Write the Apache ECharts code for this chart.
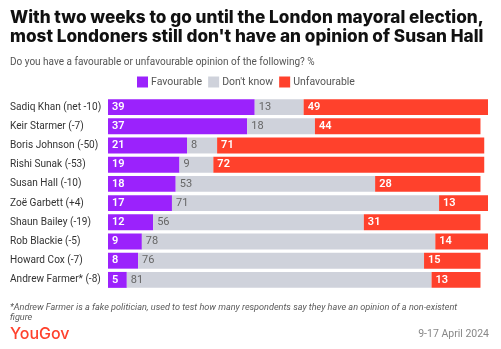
<!DOCTYPE html>
<html>
<head>
<meta charset="utf-8">
<script src="https://cdn.jsdelivr.net/npm/echarts@6/dist/echarts.min.js"></script>
<style>
  html, body { margin: 0; padding: 0; background: #fff; }
  #chart { width: 501px; height: 349px; }
</style>
</head>
<body>
<div id="chart"></div>
<script>
// Politicians, top to bottom, with net favourability in brackets
const people = [
  'Sadiq Khan (net -10)', 'Keir Starmer (-7)', 'Boris Johnson (-50)', 'Rishi Sunak (-53)',
  'Susan Hall (-10)', 'Zoë Garbett (+4)', 'Shaun Bailey (-19)', 'Rob Blackie (-5)',
  'Howard Cox (-7)', 'Andrew Farmer* (-8)'
];
const favourable   = [39, 37, 21, 19, 18, 17, 12, 9, 8, 5];
const dontKnow     = [13, 18, 8, 9, 53, 71, 56, 78, 76, 81];
const unfavourable = [49, 44, 71, 72, 28, 13, 31, 14, 15, 13];
const seriesNames  = ['Favourable', "Don't know", 'Unfavourable'];

const HEAD = 'Inter, "Noto Sans", sans-serif';
const BODY = 'Roboto, "Noto Sans", sans-serif';
const chart = echarts.init(document.getElementById('chart'), null, { renderer: 'canvas' });

function seg(name, values, color, labelColor, bold) {
  return {
    name: name,
    type: 'bar',
    stack: 'total',
    barCategoryGap: '17%',
    data: values,
    itemStyle: { color: color },
    label: {
      show: true,
      position: 'insideLeft',
      distance: 4,
      color: labelColor,
      fontFamily: BODY,
      fontSize: 11,
      fontWeight: bold ? 600 : 400
    },
    emphasis: { disabled: true }
  };
}

chart.setOption({
  animation: false,
  title: [
    {
      text: "With two weeks to go until the London mayoral election,\nmost Londoners still don't have an opinion of Susan Hall",
      left: 10, top: 8.5, padding: 0,
      textStyle: { fontFamily: HEAD, fontSize: 17.2, fontWeight: 800, color: '#111', lineHeight: 19 }
    },
    {
      text: 'Do you have a favourable or unfavourable opinion of the following? %',
      left: 10, top: 56.5, padding: 0,
      textStyle: { fontFamily: BODY, fontSize: 10, fontWeight: 400, color: '#555', lineHeight: 11 }
    },
    {
      text: '*Andrew Farmer is a fake politician, used to test how many respondents say they have an opinion of a non-existent\nfigure',
      left: 10, top: 303, padding: 0,
      textStyle: { fontFamily: BODY, fontSize: 9.1, fontStyle: 'italic', fontWeight: 400, color: '#5a5a5a', lineHeight: 10 }
    },
    {
      text: 'YouGov',
      left: 10, top: 325, padding: 0,
      textStyle: { fontFamily: HEAD, fontSize: 16, fontWeight: 500, color: '#FF412C', lineHeight: 18 }
    },
    {
      text: '9-17 April 2024',
      right: 12, top: 328.5, padding: 0,
      textStyle: { fontFamily: BODY, fontSize: 10.5, fontWeight: 400, color: '#888', lineHeight: 11 }
    }
  ],
  legend: {
    left: 137, top: 76.5, padding: 0,
    itemWidth: 11, itemHeight: 11, itemGap: 6,
    icon: 'rect',
    data: seriesNames,
    textStyle: { fontFamily: BODY, fontSize: 10.5, color: '#555', padding: [0, 0, 0, -2] },
    selectedMode: false
  },
  grid: { left: 108, right: 13, top: 97.5, height: 192 },
  xAxis: {
    type: 'value', min: 0, max: 101,
    show: false
  },
  yAxis: {
    type: 'category',
    inverse: true,
    data: people,
    axisLine: { show: false },
    axisTick: { show: false },
    axisLabel: {
      align: 'left', margin: 98,
      fontFamily: BODY, fontSize: 10.1, color: '#333'
    }
  },
  series: [
    seg(seriesNames[0], favourable, '#9B22FC', '#fff', true),
    seg(seriesNames[1], dontKnow, '#CFD2DB', '#666', false),
    seg(seriesNames[2], unfavourable, '#FF412C', '#fff', true)
  ]
});
</script>
</body>
</html>
